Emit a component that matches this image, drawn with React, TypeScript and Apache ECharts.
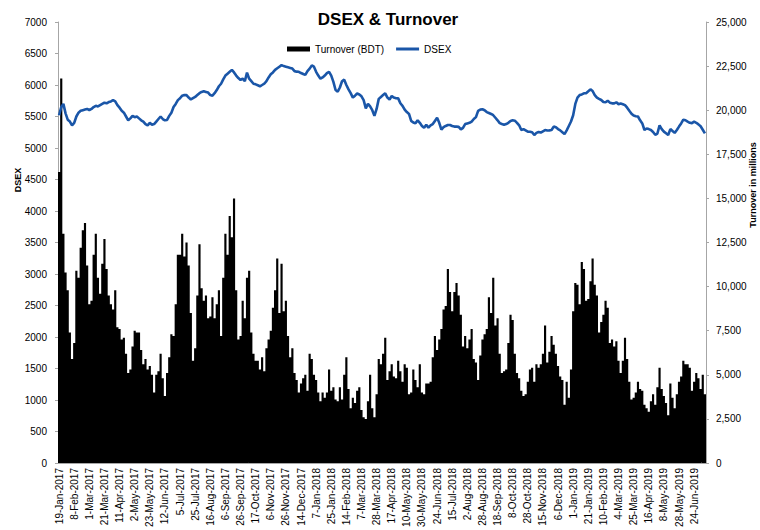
import React, { useEffect, useRef } from 'react';
import * as echarts from 'echarts';

const tickLabels: string[] = [
  '19-Jan-2017', '8-Feb-2017', '1-Mar-2017', '21-Mar-2017', '11-Apr-2017', '2-May-2017', '23-May-2017',
  '12-Jun-2017', '5-Jul-2017', '25-Jul-2017', '16-Aug-2017', '6-Sep-2017', '26-Sep-2017', '17-Oct-2017',
  '6-Nov-2017', '26-Nov-2017', '14-Dec-2017', '7-Jan-2018', '25-Jan-2018', '14-Feb-2018', '7-Mar-2018',
  '28-Mar-2018', '17-Apr-2018', '10-May-2018', '30-May-2018', '24-Jun-2018', '15-Jul-2018', '2-Aug-2018',
  '28-Aug-2018', '18-Sep-2018', '8-Oct-2018', '28-Oct-2018', '15-Nov-2018', '6-Dec-2018', '1-Jan-2019',
  '21-Jan-2019', '10-Feb-2019', '4-Mar-2019', '25-Mar-2019', '16-Apr-2019', '8-May-2019', '28-May-2019',
  '24-Jun-2019',
];

// DSEX index, one value every two trading days
const dsex: number[] = [
  5520, 5650, 5700, 5550, 5450, 5420, 5360, 5400, 5500, 5560,
  5590, 5600, 5610, 5620, 5600, 5620, 5650, 5670, 5660, 5680,
  5700, 5720, 5710, 5730, 5740, 5760, 5740, 5680, 5640, 5590,
  5560, 5500, 5440, 5470, 5510, 5490, 5500, 5470, 5440, 5420,
  5380, 5360, 5400, 5370, 5380, 5420, 5460, 5500, 5460, 5440,
  5445, 5510, 5560, 5650, 5700, 5760, 5790, 5830, 5840, 5840,
  5800, 5770, 5790, 5810, 5840, 5870, 5890, 5900, 5890, 5880,
  5840, 5830, 5870, 5920, 5980, 6020, 6090, 6150, 6180, 6210,
  6240, 6200, 6150, 6110, 6080, 6100, 6060, 6196, 6100, 6060,
  6020, 6010, 5995, 5980, 6000, 6020, 6060, 6120, 6170, 6200,
  6240, 6265, 6290, 6315, 6300, 6290, 6280, 6270, 6260, 6220,
  6212, 6210, 6190, 6175, 6160, 6220, 6260, 6310, 6290, 6210,
  6150, 6100, 6120, 6150, 6190, 6210, 6150, 6050, 5920, 5894,
  5960, 6060, 6085, 6000, 5930, 5870, 5800, 5830, 5865, 5850,
  5820, 5760, 5630, 5700, 5660, 5600, 5510, 5620, 5780, 5810,
  5840, 5868, 5800, 5770, 5825, 5800, 5790, 5788, 5710, 5670,
  5610, 5570, 5540, 5430, 5405, 5391, 5440, 5400, 5350, 5320,
  5370, 5323, 5360, 5380, 5430, 5480, 5400, 5290, 5330, 5350,
  5365, 5365, 5350, 5340, 5339, 5335, 5295, 5320, 5380, 5390,
  5400, 5420, 5460, 5490, 5590, 5610, 5615, 5600, 5570, 5555,
  5540, 5520, 5480, 5440, 5395, 5380, 5368, 5380, 5400, 5430,
  5440, 5434, 5400, 5360, 5286, 5300, 5280, 5259, 5259, 5250,
  5206, 5240, 5255, 5245, 5265, 5285, 5278, 5280, 5285, 5340,
  5330, 5300, 5280, 5250, 5220, 5280, 5350, 5420, 5520, 5700,
  5800, 5840, 5850, 5868, 5870, 5900, 5931, 5905, 5840, 5800,
  5780, 5762, 5730, 5725, 5751, 5720, 5709, 5709, 5725, 5695,
  5705, 5695, 5680, 5640, 5590, 5545, 5515, 5505, 5500, 5440,
  5390, 5286, 5310, 5300, 5286, 5255, 5210, 5230, 5360, 5300,
  5260, 5233, 5206, 5300, 5270, 5240, 5286, 5340, 5390, 5450,
  5440, 5418, 5400, 5395, 5418, 5400, 5375, 5345, 5290, 5233,
];

// Turnover in millions of BDT, one value every two trading days
const turnover: number[] = [
  16500, 21800, 13000, 10800, 9800, 7400, 5900, 6800, 10900, 10500,
  12200, 13200, 13600, 11200, 9000, 9200, 11800, 13000, 10500, 9600,
  11300, 12700, 11000, 9500, 9000, 8700, 9800, 7700, 7600, 7000,
  7100, 6200, 5100, 5300, 6600, 7500, 7400, 7400, 6400, 5600,
  5900, 5300, 5500, 5000, 4000, 5000, 5200, 6200, 4800, 3800,
  5100, 6000, 7300, 7200, 9000, 11800, 11800, 13000, 11700, 12500,
  11200, 8500, 5800, 6500, 9500, 12400, 9900, 9200, 9500, 8200,
  8300, 9400, 8200, 9000, 9800, 7200, 10500, 13000, 11800, 14000,
  12800, 15000, 9800, 7000, 7200, 9200, 8200, 10500, 10900, 7400,
  6200, 5800, 5800, 5300, 6000, 5200, 6500, 7000, 7500, 8800,
  9800, 11600, 8500, 11300, 8600, 9200, 7200, 6000, 6500, 5100,
  4700, 4000, 4500, 4800, 5000, 4100, 6200, 5900, 5000, 4700,
  4000, 3500, 4000, 3700, 4000, 5300, 4100, 4300, 3600, 3500,
  4300, 3600, 5000, 6000, 4200, 3100, 3700, 3400, 4100, 4300,
  3000, 2600, 2500, 3500, 5000, 3100, 2600, 3900, 5900, 5600,
  6200, 7100, 4700, 5200, 5600, 4900, 4800, 5800, 5200, 4600,
  5600, 5400, 3900, 4000, 5300, 4700, 4300, 5600, 4000, 3900,
  4500, 4500, 4600, 6000, 7200, 6400, 7000, 7600, 8700, 8900,
  11000, 9700, 8600, 9700, 10200, 9500, 8400, 6600, 7200, 6500,
  7000, 7600, 5900, 5700, 4700, 6100, 7000, 7300, 7600, 9400,
  8500, 10500, 7800, 8200, 6200, 5100, 5200, 5300, 6800, 8400,
  8100, 6200, 5100, 4800, 4100, 3800, 3900, 4600, 5300, 5400,
  4600, 5600, 5400, 5600, 6200, 7800, 5700, 6300, 7200, 6700,
  6200, 5500, 4900, 4700, 3300, 4600, 3700, 5300, 8600, 10200,
  10100, 9000, 11400, 11000, 9200, 9300, 10300, 11600, 10100, 9500,
  7400, 8000, 8400, 9200, 8800, 6800, 7000, 6600, 6900, 5800,
  5100, 5800, 7100, 5900, 4600, 3600, 3700, 4000, 4600, 4200,
  4100, 3300, 3100, 2900, 3500, 3900, 3300, 4300, 5400, 4200,
  3800, 3400, 2700, 4500, 3700, 3100, 3900, 4600, 4900, 5800,
  5600, 5600, 5400, 4100, 4600, 5100, 4800, 4200, 5000, 3900,
];

const FONT = '"Liberation Sans", Arial, sans-serif';
const AXIS_GRAY = '#a6a6a6';
const BLUE = '#1a56a8';

function buildCategories(): string[] {
  const cats: string[] = [];
  tickLabels.forEach((lab, k) => {
    cats.push(lab);
    const fillers = k < tickLabels.length - 1 ? 6 : 5;
    for (let j = 1; j <= fillers; j++) cats.push(`${lab} +${j}`);
  });
  return cats;
}

export default function App() {
  const ref = useRef<HTMLDivElement>(null);

  useEffect(() => {
    if (!ref.current) return;
    const chart = echarts.init(ref.current, undefined, { renderer: 'svg' });
    const categories = buildCategories();
    chart.setOption({
      animation: false,
      backgroundColor: '#ffffff',
      textStyle: { fontFamily: FONT },
      title: {
        text: 'DSEX & Turnover',
        left: 383,
        top: 6,
        textAlign: 'center',
        textStyle: { fontSize: 17, fontWeight: 'bold', color: '#000', fontFamily: FONT },
      },
      legend: {
        left: 282,
        top: 39,
        itemWidth: 23,
        itemHeight: 5,
        itemGap: 12,
        textStyle: { fontSize: 10, color: '#000', fontFamily: FONT },
        data: [
          { name: 'Turnover (BDT)', icon: 'rect' },
          { name: 'DSEX', icon: 'path://M0,0L23,0L23,3L0,3Z' },
        ],
      },
      grid: { left: 58, right: 54, top: 22, bottom: 67 },
      xAxis: {
        type: 'category',
        data: categories,
        boundaryGap: true,
        axisLine: { lineStyle: { color: AXIS_GRAY } },
        axisTick: { interval: 0, length: 3, lineStyle: { color: AXIS_GRAY } },
        axisLabel: { interval: 6, rotate: 90, fontSize: 10, color: '#000', margin: 5, fontFamily: FONT },
        splitLine: { show: false },
      },
      yAxis: [
        {
          type: 'value',
          min: 0,
          max: 7000,
          interval: 500,
          position: 'left',
          axisLine: { show: true, lineStyle: { color: AXIS_GRAY } },
          axisTick: { show: true, length: 3, lineStyle: { color: AXIS_GRAY } },
          axisLabel: { fontSize: 10, color: '#000', margin: 11, fontFamily: FONT, formatter: (v: number) => String(v) },
          splitLine: { show: false },
        },
        {
          type: 'value',
          min: 0,
          max: 25000,
          interval: 2500,
          position: 'right',
          axisLine: { show: true, lineStyle: { color: AXIS_GRAY } },
          axisTick: { show: true, length: 3, lineStyle: { color: AXIS_GRAY } },
          axisLabel: {
            fontSize: 10,
            color: '#000',
            margin: 10,
            fontFamily: FONT,
            formatter: (v: number) => v.toLocaleString('en-US'),
          },
          splitLine: { show: false },
        },
      ],
      series: [
        {
          name: 'Turnover (BDT)',
          type: 'bar',
          yAxisIndex: 1,
          data: turnover,
          barCategoryGap: '0%',
          large: true,
          largeThreshold: 50,
          itemStyle: { color: '#000' },
        },
        {
          name: 'DSEX',
          type: 'line',
          yAxisIndex: 0,
          data: dsex,
          symbol: 'none',
          showSymbol: false,
          lineStyle: { color: BLUE, width: 2.6 },
          itemStyle: { color: BLUE },
        },
      ],
      graphic: [
        {
          type: 'text',
          x: 18,
          y: 180,
          rotation: Math.PI / 2,
          style: {
            text: 'DSEX',
            font: `bold 9px ${FONT}`,
            fill: '#000',
            textAlign: 'center',
            textVerticalAlign: 'middle',
          },
        },
        {
          type: 'text',
          x: 753,
          y: 185,
          rotation: Math.PI / 2,
          style: {
            text: 'Turnover in millions',
            font: `bold 9px ${FONT}`,
            fill: '#000',
            textAlign: 'center',
            textVerticalAlign: 'middle',
          },
        },
      ],
    });
    return () => chart.dispose();
  }, []);

  return (
    <div
      ref={ref}
      style={{ position: 'fixed', left: 0, top: 0, width: 760, height: 530, background: '#fff' }}
    />
  );
}
